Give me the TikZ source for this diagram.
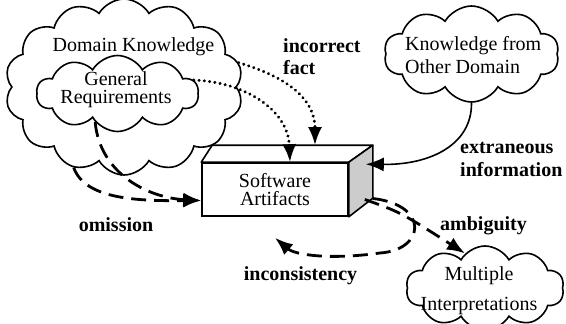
\documentclass[tikz,border=0pt]{standalone}
\usepackage{fontspec}
\setmainfont{Liberation Serif}
\usetikzlibrary{shapes.symbols,arrows.meta,calc}
\begin{document}
\begin{tikzpicture}[x=1pt, y=-1pt, >={Latex[length=18pt,width=14pt]},
    wolk/.style = {cloud, draw, line width=1.6pt, cloud puff arc=120, cloud ignores aspect, inner sep=0pt},
    wolktekst/.style = {inner sep=0pt, font=\fontsize{20}{18}\selectfont},
    tag/.style = {align=left, inner sep=0pt, font=\fontsize{20}{22}\selectfont\bfseries},
    stippel/.style = {->, line width=3.2pt, line cap=round, dash pattern=on 0.1pt off 5.2pt},
    streep/.style = {->, line width=2.8pt, dash pattern=on 15pt off 8pt}]
    \useasboundingbox (0,0) rectangle (566,324);

    \node[wolk, cloud puffs=14, minimum width=238pt, minimum height=176pt] (dk) at (124,87) {};
    \node[wolktekst, anchor=base] (dktekst) at (133.5,51) {Domain Knowledge};
    \node[wolk, cloud puffs=10, minimum width=162pt, minimum height=76pt] (gr) at (117.5,93.5) {};
    \node[wolktekst, align=center] (grtekst) at (116,89.4) {General\\Requirements};
    \node[wolk, cloud puffs=10, minimum width=175pt, minimum height=96pt] (kod) at (471.5,54) {};
    \node[wolktekst, align=left, anchor=west, font=\fontsize{20}{23}\selectfont] (kodtekst) at (405,54.8) {Knowledge from\\Other Domain};
    \node[wolk, cloud puffs=10, minimum width=158pt, minimum height=84pt] (mi) at (485,288) {};
    \node[wolktekst, align=center, font=\fontsize{20}{30}\selectfont] (mitekst) at (479,290.4) {Multiple\\Interpretations};

    \node[draw, line width=1.6pt, fill=white, minimum width=146pt, minimum height=53pt, align=center, font=\fontsize{20}{18}\selectfont] (sa) at (275,189.5) {Software\\Artifacts};
    \draw[line width=1.6pt, fill=white, line join=round] (sa.north west) -- ++(11,-17) -- ($(sa.north east)+(24,-17)$) -- (sa.north east) -- cycle;
    \draw[line width=1.6pt, fill=black!20, line join=round] (sa.north east) -- ++(24,-17) -- ++(0,53) -- (sa.south east) -- cycle;
    \coordinate (incons) at ($(sa.south)+(0,21)$);

    \node[tag, anchor=west] (fout) at (283,56.4) {incorrect\\fact};
    \node[tag, anchor=west, font=\fontsize{20}{23}\selectfont\bfseries] (extra) at (460,159) {extraneous\\information};
    \node[tag, anchor=base] (omis) at (116,231) {omission};
    \node[tag, anchor=base] (ambi) at (483.5,230) {ambiguity};
    \node[tag, anchor=base] (inco) at (300.5,280) {inconsistency};

    \draw[stippel] (gr.10) .. controls (245,82) and (288,110) .. ($(sa.north)+(15,0)$);
    \draw[stippel] (dk.12) .. controls (280,75) and (315,95) .. ($(sa.north)+(40,-17)$);
    \draw[->, line width=1.6pt] (kod.south) .. controls (472,145) and (430,165) .. ($(sa.north east)+(17,2)$);
    \draw[streep] (dk.238) .. controls (85,200) and (140,201) .. ($(sa.west)+(0,11)$);
    \draw[streep] (gr.232) .. controls (100,175) and (150,198) .. ($(sa.west)+(0,11)$);
    \draw[streep] ($(sa.east)+(16,10)$) .. controls (400,212) .. (mi.120);
    \draw[streep] ($(sa.east)+(24,9)$) .. controls (430,205) and (425,250) .. (380,253) .. controls (330,260) and (295,255) .. (incons);
\end{tikzpicture}
\end{document}
